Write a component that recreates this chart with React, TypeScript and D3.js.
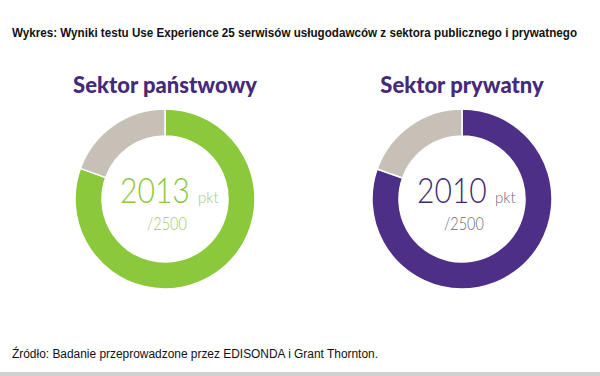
import React from "react";
import * as d3 from "d3";

const sectors = ["Sektor państwowy", "Sektor prywatny"];
const scores = [2013, 2010];
const maxScore = 2500;
const colors = ["#8cc83c", "#4d2f88"];
const textColors = ["#8cc63f", "#3f2a74"];
const subColors = ["#9fc86a", "#6b6478"];
const restColor = "#c7c0b6";
const titleText = "Wykres: Wyniki testu Use Experience 25 serwisów usługodawców z sektora publicznego i prywatnego";
const sourceText = "Źródło: Badanie przeprowadzone przez EDISONDA i Grant Thornton.";

const W = 600;
const H = 376;
const centers = [165, 462];
const cy = 199;
const outerR = 90;
const innerR = 63;

export default function App() {
  const pie = d3.pie<number>().sort(null).value((d) => d);
  const arc = d3.arc<d3.PieArcDatum<number>>().innerRadius(innerR).outerRadius(outerR);
  const titleScale = 0.8;

  return (
    <svg
      width={W}
      height={H}
      style={{ position: "absolute", left: 0, top: 0, background: "#fff" }}
    >
      <rect x={0} y={0} width={W} height={H} fill="#fff" />
      <text
        transform={`translate(12,37) scale(${titleScale},1)`}
        fontFamily="'Liberation Sans', Arial, sans-serif"
        fontWeight="bold"
        fontSize={13.5}
        textLength={565 / titleScale}
        lengthAdjust="spacingAndGlyphs"
        fill="#111"
      >
        {titleText}
      </text>
      {sectors.map((name, i) => {
        const arcs = pie([scores[i], maxScore - scores[i]]);
        const cx = centers[i];
        return (
          <g key={name}>
            <text
              x={cx}
              y={93}
              textAnchor="middle"
              fontFamily="Lato, 'Open Sans', sans-serif"
              fontWeight={900}
              fontSize={22}
              fill="#452a7a"
            >
              {name}
            </text>
            <g transform={`translate(${cx},${cy})`}>
              {arcs.map((a, j) => (
                <path
                  key={j}
                  d={arc(a) || ""}
                  fill={j === 0 ? colors[i] : restColor}
                  stroke="#fff"
                  strokeWidth={1.5}
                />
              ))}
              <text
                transform="translate(-45,4) scale(0.86,1)"
                fontFamily="Lato, 'Open Sans', sans-serif"
                fontWeight={300}
                fontSize={35}
                fill={textColors[i]}
              >
                {scores[i]}
              </text>
              <text
                x={33}
                y={4}
                fontFamily="Lato, 'Open Sans', sans-serif"
                fontWeight={300}
                fontSize={15}
                fill={subColors[i]}
              >
                pkt
              </text>
              <text
                transform="translate(-18,31) scale(0.85,1)"
                fontFamily="Lato, 'Open Sans', sans-serif"
                fontWeight={300}
                fontSize={17}
                fill={subColors[i]}
              >
                /{maxScore}
              </text>
            </g>
          </g>
        );
      })}
      <text
        x={12}
        y={358}
        fontFamily="'Liberation Sans', Arial, sans-serif"
        fontSize={12}
        textLength={366}
        lengthAdjust="spacingAndGlyphs"
        fill="#111"
      >
        {sourceText}
      </text>
      <rect x={0} y={372} width={W} height={4} fill="#d0d0d0" />
    </svg>
  );
}
